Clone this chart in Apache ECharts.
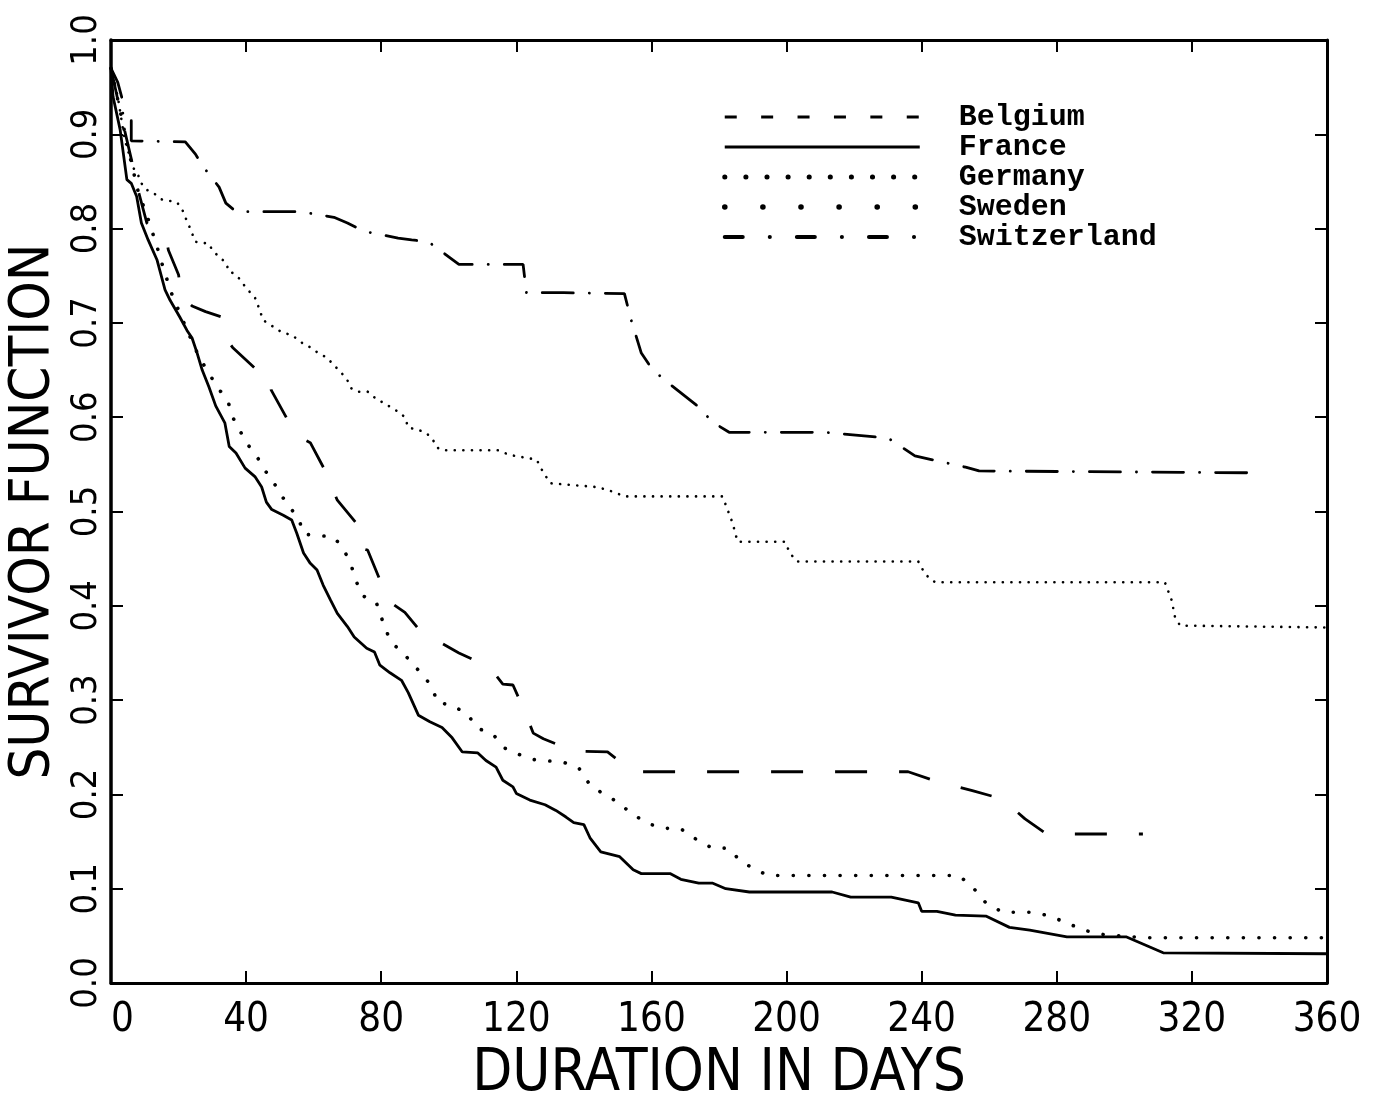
<!DOCTYPE html>
<html>
<head>
<meta charset="utf-8">
<script src="https://cdn.jsdelivr.net/npm/echarts@6/dist/echarts.min.js"></script>
<style>
html,body{margin:0;padding:0;background:#fff;}
#chart{width:1373px;height:1108px;}
</style>
</head>
<body>
<div id="chart"></div>
<script>
// ---- data (day, survivor function) ----
const countries = ['Belgium', 'France', 'Germany', 'Sweden', 'Switzerland'];
const xTicks = [0, 40, 80, 120, 160, 200, 240, 280, 320, 360];
const yTicks = [0.0, 0.1, 0.2, 0.3, 0.4, 0.5, 0.6, 0.7, 0.8, 0.9, 1.0];

const belgium = [[0,0.97],[3,0.92],[6,0.874],[8,0.841],[10.6,0.806],[16.5,0.786],[17,0.777],[20,0.751],[21,0.727],[24,0.718],[28,0.712],[33,0.706],[34,0.684],[36,0.674],[42.6,0.652],[45,0.642],[47,0.642],[47.4,0.629],[52,0.599],[55.5,0.579],[59,0.573],[63,0.546],[67,0.512],[73,0.486],[74,0.461],[76,0.459],[80,0.424],[83,0.403],[87,0.393],[93,0.367],[97,0.362],[103,0.350],[112,0.335],[116,0.317],[119,0.316],[122.6,0.287],[125,0.265],[128,0.259],[137,0.246],[147,0.245],[152,0.231],[155,0.224],[236,0.224],[245,0.213],[255,0.204],[264,0.195],[270.6,0.174],[277,0.158],[305.5,0.158]];

const france = [[0,0.97],[0.6,0.94],[2.7,0.905],[4.7,0.852],[6,0.848],[7.6,0.834],[9,0.806],[11,0.788],[13.6,0.767],[16,0.735],[17.5,0.724],[20.4,0.706],[22.5,0.692],[24,0.684],[25.5,0.668],[27,0.650],[29,0.632],[31,0.612],[33.7,0.594],[35,0.569],[37,0.562],[39.7,0.546],[42.6,0.537],[44.6,0.526],[46,0.510],[47.6,0.502],[51,0.496],[53.5,0.491],[55,0.477],[57,0.456],[59,0.445],[61,0.438],[62.8,0.422],[65,0.406],[67,0.392],[70,0.378],[72,0.367],[75.7,0.355],[78,0.351],[79.6,0.337],[82.6,0.329],[86,0.321],[88,0.308],[91,0.284],[94.4,0.277],[98,0.271],[101,0.260],[104,0.245],[108.6,0.244],[111,0.236],[114,0.229],[116,0.215],[119,0.208],[120,0.201],[124,0.194],[128.5,0.189],[131.7,0.183],[134.7,0.176],[137,0.170],[140,0.168],[141.8,0.154],[145,0.139],[150.6,0.134],[154.6,0.120],[157,0.116],[165.5,0.116],[168.7,0.110],[174,0.106],[178,0.106],[182,0.100],[189,0.0965],[213.5,0.0965],[219,0.091],[231,0.091],[239,0.085],[240,0.076],[244.5,0.076],[250,0.072],[259,0.071],[266,0.059],[272,0.056],[283,0.049],[300.5,0.049],[311.5,0.032],[360,0.031]];

const germany = [[0,0.97],[2,0.94],[4,0.895],[6.5,0.865],[8,0.857],[9,0.848],[10.6,0.841],[12.5,0.838],[15,0.831],[19.5,0.828],[21,0.821],[22,0.812],[23,0.804],[24,0.795],[25,0.786],[29,0.784],[30,0.777],[32,0.770],[34,0.764],[35,0.754],[36,0.753],[38,0.747],[40,0.737],[42.6,0.727],[44,0.714],[45,0.703],[48,0.696],[50.6,0.690],[53.6,0.687],[56.5,0.679],[59,0.674],[61,0.669],[64,0.663],[66,0.655],[68,0.648],[70,0.639],[71,0.631],[73,0.627],[76,0.627],[79,0.618],[81,0.615],[83,0.610],[85,0.606],[87,0.600],[88,0.589],[90.5,0.587],[93,0.584],[95,0.578],[96.5,0.568],[98,0.565],[114.5,0.565],[118,0.560],[126,0.555],[127.6,0.544],[130,0.530],[143.5,0.526],[147,0.523],[150,0.519],[152,0.516],[181,0.516],[182,0.507],[184,0.488],[185.5,0.468],[199.5,0.468],[201,0.456],[203,0.447],[239,0.447],[240,0.440],[242,0.430],[244,0.425],[312,0.425],[314,0.406],[315,0.388],[316.5,0.379],[360,0.377]];

const sweden = [[0,0.97],[3,0.92],[6,0.87],[8,0.84],[11,0.810],[13.7,0.780],[14.8,0.766],[16,0.753],[17.5,0.735],[21,0.705],[25,0.672],[28,0.652],[31.7,0.631],[34.7,0.616],[36,0.600],[38,0.587],[40,0.573],[43,0.560],[45,0.546],[47.7,0.534],[50,0.519],[53.3,0.503],[55.7,0.491],[57,0.476],[66,0.473],[69,0.459],[71,0.444],[72.5,0.427],[74.3,0.411],[78.5,0.404],[80,0.388],[82,0.369],[84,0.358],[87,0.348],[89.5,0.337],[92.7,0.326],[95.3,0.311],[96.7,0.297],[101,0.295],[105.7,0.284],[108.6,0.270],[113,0.264],[116.6,0.249],[121,0.242],[125,0.237],[134,0.234],[138.5,0.228],[141.8,0.210],[146,0.200],[150,0.192],[154,0.180],[159,0.169],[163.7,0.164],[168.5,0.164],[173,0.153],[178,0.143],[182.6,0.143],[186,0.131],[189.8,0.122],[194.5,0.114],[251,0.114],[255,0.102],[259,0.085],[264,0.075],[273,0.075],[278,0.071],[282.7,0.064],[287.4,0.057],[292,0.052],[305.8,0.048],[360,0.048]];

const switzerland = [[0,0.97],[2,0.955],[3.5,0.935],[3.5,0.915],[6,0.915],[6,0.893],[22,0.892],[25,0.879],[27,0.867],[32,0.844],[34,0.827],[37,0.818],[56,0.818],[66,0.812],[70,0.806],[75,0.797],[85,0.790],[89,0.788],[94,0.786],[103,0.762],[122,0.762],[123,0.732],[134,0.732],[152,0.731],[154,0.703],[157,0.668],[160,0.652],[164,0.639],[174,0.611],[178,0.595],[183,0.584],[211,0.584],[230,0.578],[238,0.559],[248,0.551],[253,0.547],[257,0.543],[340,0.541]];

const seriesData = [belgium, france, germany, sweden, switzerland];

// ---- styles ----
const plotStyles = [
  {width: 2.8, type: [32, 32], cap: 'butt'},
  {width: 2.8, type: 'solid', cap: 'butt'},
  {width: 2.6, type: [0.1, 8.5], cap: 'round'},
  {width: 3.6, type: [0.1, 15.5], cap: 'round'},
  {width: 2.8, type: [31, 16, 0.1, 16], cap: 'round'}
];
const legendStyles = [
  {width: 3, type: [12, 24.4], cap: 'butt'},
  {width: 3, type: 'solid', cap: 'butt'},
  {width: 5, type: [0.1, 21.0], cap: 'round'},
  {width: 5.5, type: [0.1, 38.0], cap: 'round'},
  {width: 4, type: [18, 27, 0.1, 27], cap: 'round'}
];

const axisFont = '"Liberation Sans Narrow", "DejaVu Sans Condensed", "Liberation Sans", sans-serif';

const chart = echarts.init(document.getElementById('chart'), null, {renderer: 'canvas'});
chart.setOption({
  animation: false,
  backgroundColor: '#ffffff',
  grid: {left: 111, right: 46, top: 40, bottom: 125, containLabel: false, outerBoundsMode: 'none'},
  legend: {
    orient: 'vertical',
    left: 722,
    top: 102,
    padding: 0,
    itemWidth: 195,
    itemHeight: 20,
    itemGap: 0,
    inactiveColor: '#000',
    selectedMode: false,
    itemStyle: {color: 'rgba(0,0,0,0)', borderWidth: 0, opacity: 0},
    textStyle: {
      fontFamily: '"Liberation Mono", "DejaVu Sans Mono", monospace',
      fontWeight: 'bold',
      fontSize: 30,
      lineHeight: 30,
      color: '#000',
      padding: [0, 0, 0, 34]
    },
    data: countries.map((c, i) => ({
      name: c,
      itemStyle: {color: 'rgba(0,0,0,0)', borderWidth: 0, opacity: 0},
      lineStyle: Object.assign({color: '#000', opacity: 1}, legendStyles[i])
    }))
  },
  xAxis: [{
    type: 'value',
    min: xTicks[0],
    max: xTicks[xTicks.length - 1],
    interval: 40,
    name: 'DURATION IN DAYS',
    nameLocation: 'middle',
    nameGap: 62,
    nameTextStyle: {fontFamily: axisFont, fontSize: 58, color: '#000'},
    axisLine: {show: true, onZero: false, lineStyle: {color: '#000', width: 3}},
    axisTick: {show: true, inside: true, length: 12, lineStyle: {color: '#000', width: 2}},
    axisLabel: {
      show: true, margin: 18, fontFamily: axisFont, fontSize: 40, color: '#000',
      alignMinLabel: 'left'
    },
    splitLine: {show: false}
  }, {
    type: 'value',
    position: 'top',
    min: xTicks[0],
    max: xTicks[xTicks.length - 1],
    interval: 40,
    axisLine: {show: true, onZero: false, lineStyle: {color: '#000', width: 3}},
    axisTick: {show: true, inside: true, length: 12, lineStyle: {color: '#000', width: 2}},
    axisLabel: {show: false},
    splitLine: {show: false}
  }],
  yAxis: [{
    type: 'value',
    min: yTicks[0],
    max: yTicks[yTicks.length - 1],
    interval: 0.1,
    name: 'SURVIVOR FUNCTION',
    nameLocation: 'middle',
    nameGap: 38,
    nameTextStyle: {fontFamily: axisFont, fontSize: 56, color: '#000'},
    axisLine: {show: true, onZero: false, lineStyle: {color: '#000', width: 3.5}},
    axisTick: {show: true, inside: true, length: 12, lineStyle: {color: '#000', width: 2}},
    axisLabel: {
      show: true, margin: 6, rotate: 90, fontFamily: axisFont, fontSize: 36, color: '#000',
      formatter: v => v.toFixed(1)
    },
    splitLine: {show: false}
  }, {
    type: 'value',
    position: 'right',
    min: yTicks[0],
    max: yTicks[yTicks.length - 1],
    interval: 0.1,
    axisLine: {show: true, onZero: false, lineStyle: {color: '#000', width: 3}},
    axisTick: {show: true, inside: true, length: 12, lineStyle: {color: '#000', width: 2}},
    axisLabel: {show: false},
    splitLine: {show: false}
  }],
  series: countries.map((c, i) => ({
    name: c,
    type: 'line',
    xAxisIndex: 0,
    yAxisIndex: 0,
    data: seriesData[i],
    symbol: 'none',
    showSymbol: false,
    smooth: false,
    silent: true,
    lineStyle: Object.assign({color: '#000'}, plotStyles[i]),
    itemStyle: {color: '#000'}
  }))
});
</script>
</body>
</html>
